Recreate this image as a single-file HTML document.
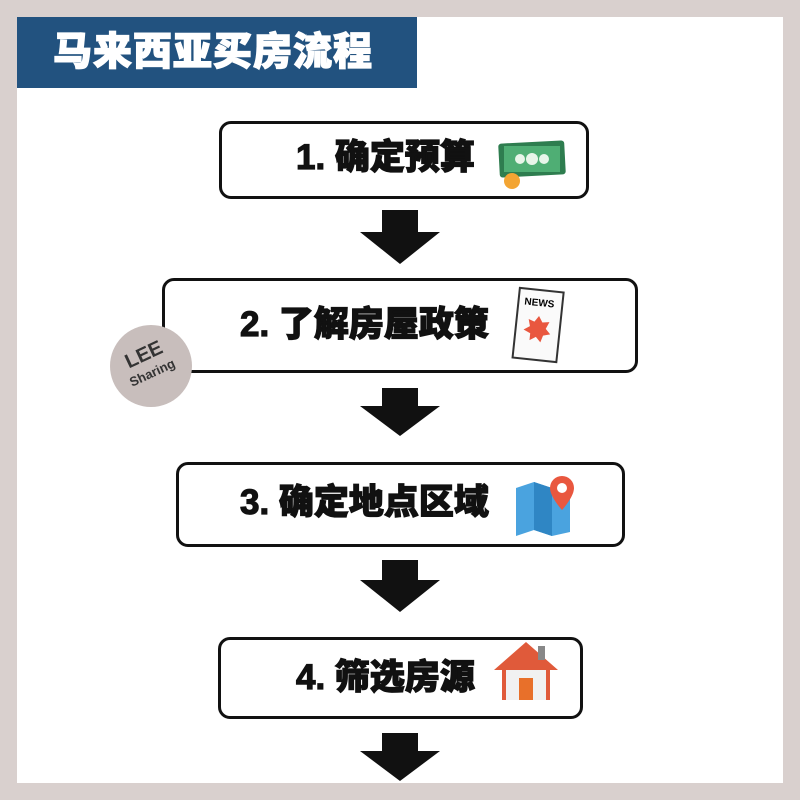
<!DOCTYPE html>
<html><head><meta charset="utf-8"><style>
body{margin:0;width:800px;height:800px;background:#d9d0ce;position:relative;overflow:hidden;font-family:"Liberation Sans","Noto Sans CJK SC",sans-serif}
.w{position:absolute;left:17px;top:17px;width:766px;height:766px;background:#fff}
.t{position:absolute;left:17px;top:17px;width:400px;height:71px;background:#22527f;color:#fff;font-weight:900;font-size:39px;line-height:71px;padding-left:36px;box-sizing:border-box;letter-spacing:1px;-webkit-text-stroke:1.2px #fff}
.b{position:absolute;border:3.5px solid #111;border-radius:12px;box-sizing:border-box;background:#fff}
.tx{position:absolute;font-weight:900;font-size:35px;color:#111;white-space:nowrap;line-height:1;-webkit-text-stroke:1.2px #111}
.ar{position:absolute;width:0;height:0}
</style></head><body>
<div class="w"></div>
<div class="t">马来西亚买房流程</div>

<div class="b" style="left:219px;top:121px;width:370px;height:78px"></div>
<div class="tx" style="left:296px;top:140px">1. 确定预算</div>
<svg style="position:absolute;left:496px;top:136px" width="75" height="60"><rect x="3" y="6" width="66" height="34" rx="3" fill="#2e7d4f" transform="rotate(-3 36 23)"/><rect x="8" y="10" width="56" height="26" fill="#4fae74"/><circle cx="24" cy="23" r="5" fill="#e8f5e9"/><circle cx="36" cy="23" r="6" fill="#e8f5e9"/><circle cx="48" cy="23" r="5" fill="#e8f5e9"/><circle cx="16" cy="45" r="8" fill="#f3a533"/></svg>

<svg class="ar" style="left:360px;top:210px;width:80px;height:54px"><polygon points="22,0 58,0 58,22 80,22 40,54 0,22 22,22" fill="#111"/></svg>

<div class="b" style="left:162px;top:278px;width:476px;height:95px"></div>
<div class="tx" style="left:240px;top:307px">2. 了解房屋政策</div>
<svg style="position:absolute;left:508px;top:286px" width="60" height="80"><g transform="rotate(6 30 40)"><rect x="8" y="4" width="44" height="70" fill="#fafafa" stroke="#333" stroke-width="2"/><text x="14" y="20" font-size="10" font-family="Liberation Sans" font-weight="bold">NEWS</text><polygon points="30,30 34,36 41,35 38,42 43,47 36,49 34,56 29,51 23,55 23,48 16,45 22,41 20,34 26,36" fill="#e9573f"/></g></svg>
<div style="position:absolute;left:110px;top:325px;width:82px;height:82px;border-radius:50%;background:#c8bebc"></div>
<div style="position:absolute;left:124px;top:345px;transform:rotate(-25deg);font-size:20px;font-weight:bold;color:#333;line-height:18px;text-align:center">LEE<br><span style="font-size:13px">Sharing</span></div>

<svg class="ar" style="left:360px;top:388px;width:80px;height:48px"><polygon points="22,0 58,0 58,18 80,18 40,48 0,18 22,18" fill="#111"/></svg>

<div class="b" style="left:176px;top:462px;width:449px;height:85px"></div>
<div class="tx" style="left:240px;top:485px">3. 确定地点区域</div>
<svg style="position:absolute;left:512px;top:474px" width="66" height="62"><polygon points="4,14 22,8 40,14 58,8 58,58 40,62 22,56 4,62" fill="#4aa3df"/><polygon points="22,8 40,14 40,62 22,56" fill="#2f86c4"/><path d="M50,2 a12,12 0 0 1 12,12 c0,9 -12,22 -12,22 c0,0 -12,-13 -12,-22 a12,12 0 0 1 12,-12z" fill="#e9573f"/><circle cx="50" cy="14" r="5" fill="#fff"/></svg>

<svg class="ar" style="left:360px;top:560px;width:80px;height:52px"><polygon points="22,0 58,0 58,20 80,20 40,52 0,20 22,20" fill="#111"/></svg>

<div class="b" style="left:218px;top:637px;width:365px;height:82px"></div>
<div class="tx" style="left:296px;top:660px">4. 筛选房源</div>
<svg style="position:absolute;left:492px;top:638px" width="68" height="64"><polygon points="34,4 2,32 10,32 10,62 58,62 58,32 66,32" fill="#e05a3a"/><rect x="14" y="32" width="40" height="30" fill="#f1f1f1"/><rect x="27" y="40" width="14" height="22" fill="#e8702a"/><rect x="46" y="8" width="7" height="14" fill="#888"/></svg>

<svg class="ar" style="left:360px;top:733px;width:80px;height:48px"><polygon points="22,0 58,0 58,18 80,18 40,48 0,18 22,18" fill="#111"/></svg>
</body></html>
